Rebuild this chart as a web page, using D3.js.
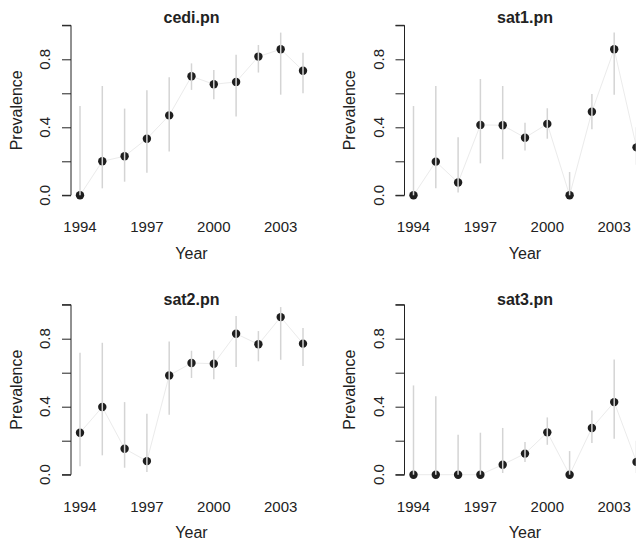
<!DOCTYPE html>
<html lang="en">
<head>
  <meta charset="UTF-8">
  <title>Prevalence by year</title>
  <style type="text/css">
    body{
      margin: 0;
      background: #fff;
    }
    svg text{
      font-family: "Liberation Sans", Arial, sans-serif;
      fill: #222;
    }
    .title{
      font-size: 16px;
      font-weight: bold;
    }
    .tick-label{
      font-size: 15px;
    }
    .axis-title{
      font-size: 16px;
    }
    .axis path,
    .axis line{
      stroke: #222;
      stroke-width: 1px;
      fill: none;
    }
  </style>
  <script type="text/javascript" src="https://d3js.org/d3.v7.min.js"></script>
</head>
<body>
<script type="text/javascript">
  // data
  var years = [1994, 1995, 1996, 1997, 1998, 1999, 2000, 2001, 2002, 2003, 2004];
  var xTickYears = [1994, 1997, 2000, 2003];
  var yTickValues = [0, 0.2, 0.4, 0.6, 0.8, 1.0];
  var yTickLabels = ['0.0', '', '0.4', '', '0.8', ''];
  var panelNames = ['cedi.pn', 'sat1.pn', 'sat2.pn', 'sat3.pn'];

  var cediPrev = [0, 0.20, 0.23, 0.333, 0.47, 0.70, 0.653, 0.667, 0.816, 0.859, 0.733];
  var cediLow  = [0, 0.041, 0.08, 0.133, 0.257, 0.62, 0.565, 0.463, 0.722, 0.592, 0.60];
  var cediHigh = [0.525, 0.643, 0.51, 0.618, 0.694, 0.776, 0.737, 0.827, 0.884, 0.957, 0.839];

  var sat1Prev = [0, 0.198, 0.075, 0.414, 0.412, 0.339, 0.42, 0, 0.492, 0.859, 0.282];
  var sat1Low  = [0, 0.041, 0.016, 0.188, 0.212, 0.263, 0.333, 0, 0.388, 0.592, 0.18];
  var sat1High = [0.525, 0.643, 0.341, 0.684, 0.643, 0.427, 0.512, 0.137, 0.596, 0.957, 0.40];

  var sat2Prev = [0.247, 0.398, 0.153, 0.080, 0.584, 0.657, 0.653, 0.829, 0.767, 0.927, 0.771];
  var sat2Low  = [0.049, 0.114, 0.041, 0.016, 0.353, 0.569, 0.561, 0.633, 0.667, 0.676, 0.639];
  var sat2High = [0.718, 0.776, 0.427, 0.359, 0.784, 0.729, 0.729, 0.933, 0.845, 0.986, 0.863];

  var sat3Prev = [0, 0, 0, 0, 0.059, 0.124, 0.249, 0, 0.275, 0.427, 0.075];
  var sat3Low  = [0, 0, 0, 0, 0.01, 0.075, 0.176, 0, 0.186, 0.212, 0.01];
  var sat3High = [0.525, 0.461, 0.235, 0.247, 0.275, 0.192, 0.337, 0.139, 0.378, 0.678, 0.2];

  var panelSeries = [
    [cediPrev, cediLow, cediHigh],
    [sat1Prev, sat1Low, sat1High],
    [sat2Prev, sat2Low, sat2High],
    [sat3Prev, sat3Low, sat3High]
  ];

  var width = 636, height = 544;
  var cellW = 333.5, cellH = 279.4;

  var svg = d3.select('body')
    .append('svg')
    .attr('width', width)
    .attr('height', height);

  // scales are in cell coordinates
  var xScale = d3.scaleLinear()
    .domain([1994, 2004])
    .range([80, 303]);

  var yScale = d3.scaleLinear()
    .domain([0, 1])
    .range([195.3, 25.3]);

  var line = d3.line()
    .x(function(d){ return xScale(d.year); })
    .y(function(d){ return yScale(d.prev); });

  panelNames.forEach(function(name, i){
    var col = i % 2, row = Math.floor(i / 2);
    var g = svg.append('g')
      .attr('transform', 'translate(' + (col * cellW) + ',' + (row * cellH) + ')');

    var s = panelSeries[i];
    var data = years.map(function(y, k){
      return {year: y, prev: s[0][k], low: s[1][k], high: s[2][k]};
    });

    // y axis
    var yAxis = d3.axisLeft(yScale)
      .tickValues(yTickValues)
      .tickSize(9)
      .tickFormat('');
    var ya = g.append('g')
      .attr('class', 'axis')
      .attr('transform', 'translate(71,0)')
      .call(yAxis);
    ya.select('.domain')
      .attr('d', 'M-9,' + yScale(1) + 'H0V' + yScale(0) + 'H-9');

    g.selectAll('.ylab')
      .data(yTickValues)
      .enter().append('text')
      .attr('class', 'tick-label')
      .attr('text-anchor', 'middle')
      .attr('transform', function(d){ return 'translate(50,' + yScale(d) + ') rotate(-90)'; })
      .text(function(d, k){ return yTickLabels[k]; });

    // x labels only, no axis line
    g.selectAll('.xlab')
      .data(xTickYears)
      .enter().append('text')
      .attr('class', 'tick-label')
      .attr('text-anchor', 'middle')
      .attr('x', function(d){ return xScale(d); })
      .attr('y', 232.3)
      .text(function(d){ return d; });

    // connecting line
    g.append('path')
      .datum(data)
      .attr('d', line)
      .attr('fill', 'none')
      .attr('stroke', '#ebebeb')
      .attr('stroke-width', 1);

    // points
    g.selectAll('.pt')
      .data(data)
      .enter().append('circle')
      .attr('cx', function(d){ return xScale(d.year); })
      .attr('cy', function(d){ return yScale(d.prev); })
      .attr('r', 4.2)
      .attr('fill', '#1e1e1e');

    // interval bars, drawn over the points
    g.selectAll('.bar')
      .data(data)
      .enter().append('line')
      .attr('x1', function(d){ return xScale(d.year); })
      .attr('x2', function(d){ return xScale(d.year); })
      .attr('y1', function(d){ return yScale(d.low); })
      .attr('y2', function(d){ return yScale(d.high); })
      .attr('stroke', '#d4d4d4')
      .attr('stroke-width', 1.5);

    // titles
    g.append('text')
      .attr('class', 'title')
      .attr('text-anchor', 'middle')
      .attr('x', 191.5)
      .attr('y', row === 0 ? 22.7 : 25.6)
      .text(name);

    g.append('text')
      .attr('class', 'axis-title')
      .attr('text-anchor', 'middle')
      .attr('x', 191.5)
      .attr('y', 258.5)
      .text('Year');

    g.append('text')
      .attr('class', 'axis-title')
      .attr('text-anchor', 'middle')
      .attr('transform', 'translate(21.7,' + yScale(0.5) + ') rotate(-90)')
      .text('Prevalence');
  });
</script>
</body>
</html>
